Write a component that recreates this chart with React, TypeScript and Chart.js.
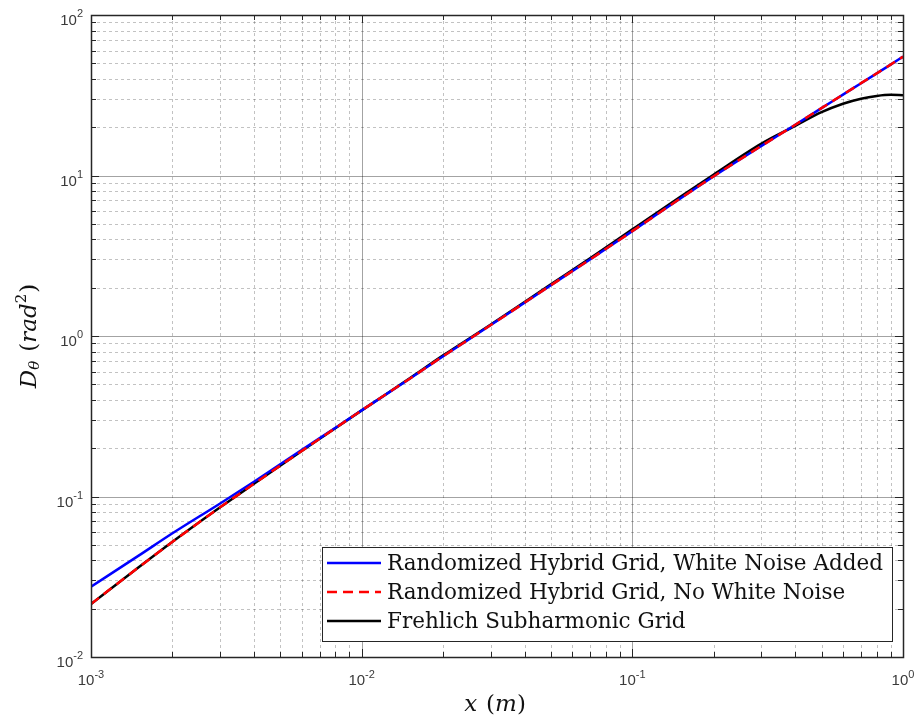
import { useEffect, useRef } from "react";
import { Chart, registerables } from "chart.js";

Chart.register(...registerables);

// Separation x (m)
const xValues = [
  0.001, 0.0015, 0.002, 0.003, 0.004, 0.005, 0.007, 0.01, 0.015, 0.02, 0.03, 0.05,
  0.07, 0.1, 0.15, 0.2, 0.3, 0.4, 0.5, 0.6, 0.7, 0.8, 0.9, 1.0,
];

// Structure function D_theta (rad^2)
const hybridWhiteNoise = [
  0.0274, 0.0428, 0.059, 0.0905, 0.1236, 0.1587, 0.231, 0.344, 0.54, 0.748, 1.17, 2.07,
  3.01, 4.5, 7.17, 9.9, 15.3, 20.7, 26.3, 31.9, 37.6, 43.3, 49.1, 55.0,
];
const hybridNoWhiteNoise = [
  0.0214, 0.0362, 0.0522, 0.0856, 0.12, 0.1556, 0.229, 0.344, 0.54, 0.748, 1.17, 2.07,
  3.01, 4.5, 7.17, 9.9, 15.3, 20.7, 26.3, 31.9, 37.6, 43.3, 49.1, 55.0,
];
const frehlichSubharmonic = [
  0.0214, 0.0362, 0.0522, 0.0856, 0.12, 0.1556, 0.229, 0.344, 0.543, 0.757, 1.18, 2.1,
  3.06, 4.62, 7.35, 10.15, 15.8, 20.4, 24.8, 28.0, 30.1, 31.3, 31.8, 31.6,
];

const seriesNames = [
  "Randomized Hybrid Grid, White Noise Added",
  "Randomized Hybrid Grid, No White Noise",
  "Frehlich Subharmonic Grid",
];

// Decade exponents for the axes
const xDecades = [-3, -2, -1, 0];
const yDecades = [-2, -1, 0, 1, 2];

const FRAME = "#262626";
const LABEL = "#3a3a3a";

function decadeTicks(decades: number[]) {
  const out: { v: number; major: boolean }[] = [];
  decades.forEach((d, i) => {
    const base = Math.pow(10, d);
    out.push({ v: base, major: true });
    if (i < decades.length - 1) {
      for (let k = 2; k <= 9; k++) out.push({ v: k * base, major: false });
    }
  });
  return out;
}

type Piece = { text: string; font: string; dy?: number; gap?: number };

function drawPieces(ctx: CanvasRenderingContext2D, pieces: Piece[], x: number, y: number, align: "left" | "center" | "right") {
  let total = 0;
  const widths = pieces.map((p) => {
    ctx.font = p.font;
    const w = ctx.measureText(p.text).width + (p.gap || 0);
    total += w;
    return w;
  });
  let cx = align === "left" ? x : align === "center" ? x - total / 2 : x - total;
  ctx.textAlign = "left";
  pieces.forEach((p, i) => {
    ctx.font = p.font;
    ctx.fillText(p.text, cx + (p.gap || 0), y + (p.dy || 0));
    cx += widths[i];
  });
}

const axesPlugin = {
  id: "matlabAxes",
  beforeDatasetsDraw(chart: any) {
    const { ctx, chartArea: a, scales } = chart;
    const xs = scales.x;
    const ys = scales.y;
    ctx.save();
    // minor grid (dotted)
    ctx.lineWidth = 1;
    ctx.strokeStyle = "rgba(0,0,0,0.24)";
    ctx.setLineDash([3, 3]);
    decadeTicks(xDecades).filter((t) => !t.major).forEach((t) => {
      const px = Math.round(xs.getPixelForValue(t.v)) + 0.5;
      ctx.beginPath(); ctx.moveTo(px, a.top); ctx.lineTo(px, a.bottom); ctx.stroke();
    });
    decadeTicks(yDecades).filter((t) => !t.major).forEach((t) => {
      const py = Math.round(ys.getPixelForValue(t.v)) + 0.5;
      ctx.beginPath(); ctx.moveTo(a.left, py); ctx.lineTo(a.right, py); ctx.stroke();
    });
    // major grid (solid)
    ctx.setLineDash([]);
    ctx.strokeStyle = "rgba(0,0,0,0.36)";
    decadeTicks(xDecades).filter((t) => t.major).forEach((t) => {
      const px = Math.round(xs.getPixelForValue(t.v)) + 0.5;
      ctx.beginPath(); ctx.moveTo(px, a.top); ctx.lineTo(px, a.bottom); ctx.stroke();
    });
    decadeTicks(yDecades).filter((t) => t.major).forEach((t) => {
      const py = Math.round(ys.getPixelForValue(t.v)) + 0.5;
      ctx.beginPath(); ctx.moveTo(a.left, py); ctx.lineTo(a.right, py); ctx.stroke();
    });
    ctx.restore();
  },
  afterDatasetsDraw(chart: any) {
    const { ctx, chartArea: a, scales } = chart;
    const xs = scales.x;
    const ys = scales.y;
    ctx.save();
    // inward ticks on all four sides
    ctx.strokeStyle = FRAME;
    ctx.lineWidth = 1;
    decadeTicks(xDecades).forEach((t) => {
      const px = Math.round(xs.getPixelForValue(t.v)) + 0.5;
      const len = t.major ? 8 : 5;
      ctx.beginPath();
      ctx.moveTo(px, a.bottom); ctx.lineTo(px, a.bottom - len);
      ctx.moveTo(px, a.top); ctx.lineTo(px, a.top + len);
      ctx.stroke();
    });
    decadeTicks(yDecades).forEach((t) => {
      const py = Math.round(ys.getPixelForValue(t.v)) + 0.5;
      const len = t.major ? 8 : 5;
      ctx.beginPath();
      ctx.moveTo(a.left, py); ctx.lineTo(a.left + len, py);
      ctx.moveTo(a.right, py); ctx.lineTo(a.right - len, py);
      ctx.stroke();
    });
    // frame
    ctx.lineWidth = 1.5;
    ctx.strokeRect(Math.round(a.left) + 0.5, Math.round(a.top) + 0.5, Math.round(a.right - a.left), Math.round(a.bottom - a.top));

    // tick labels with superscript exponents
    ctx.fillStyle = LABEL;
    ctx.textBaseline = "alphabetic";
    const baseFont = "15px 'Liberation Sans', Arial, sans-serif";
    const expFont = "11px 'Liberation Sans', Arial, sans-serif";
    xDecades.forEach((d) => {
      const px = xs.getPixelForValue(Math.pow(10, d));
      drawPieces(ctx, [
        { text: "10", font: baseFont },
        { text: String(d), font: expFont, dy: -7 },
      ], px, a.bottom + 28, "center");
    });
    yDecades.forEach((d) => {
      const py = ys.getPixelForValue(Math.pow(10, d));
      drawPieces(ctx, [
        { text: "10", font: baseFont },
        { text: String(d), font: expFont, dy: -8 },
      ], a.left - 8, py + 10, "right");
    });

    // axis titles
    ctx.fillStyle = "#111";
    const it = "italic 23px 'DejaVu Serif', serif";
    const rm = "23px 'DejaVu Serif', serif";
    ctx.textBaseline = "middle";
    drawPieces(ctx, [
      { text: "x", font: it },
      { text: "(", font: rm, gap: 9 },
      { text: "m", font: it },
      { text: ")", font: rm },
    ], (a.left + a.right) / 2 - 2, a.bottom + 48, "center");

    ctx.save();
    ctx.translate(30, (a.top + a.bottom) / 2);
    ctx.rotate(-Math.PI / 2);
    drawPieces(ctx, [
      { text: "D", font: it },
      { text: "θ", font: "italic 15px 'DejaVu Serif', serif", dy: 5 },
      { text: "(", font: rm, gap: 9 },
      { text: "rad", font: it },
      { text: "2", font: "15px 'DejaVu Serif', serif", dy: -8 },
      { text: ")", font: rm, gap: 1 },
    ], 0, 0, "center");
    ctx.restore();

    // legend box
    const lx = 322.5, ly = 547.5, lw = 570, lh = 94;
    ctx.fillStyle = "#ffffff";
    ctx.fillRect(lx, ly, lw, lh);
    ctx.strokeStyle = FRAME;
    ctx.lineWidth = 1;
    ctx.strokeRect(lx, ly, lw, lh);
    const rows = [563, 592, 621];
    chart.data.datasets
      .map((ds: any, i: number) => ({ ds, i }))
      .sort((p: any, q: any) => p.ds.legendIndex - q.ds.legendIndex)
      .forEach(({ ds }: any, r: number) => {
        const y = rows[r];
        ctx.strokeStyle = ds.borderColor;
        ctx.lineWidth = ds.borderWidth;
        ctx.setLineDash(ds.borderDash || []);
        ctx.beginPath(); ctx.moveTo(327, y); ctx.lineTo(381, y); ctx.stroke();
        ctx.setLineDash([]);
        ctx.fillStyle = "#111";
        ctx.font = "21.5px 'DejaVu Serif', serif";
        ctx.textAlign = "left";
        ctx.textBaseline = "middle";
        ctx.fillText(ds.label, 387, y + 1);
      });
    ctx.restore();
  },
};

function points(ys: number[]) {
  return xValues.map((x, i) => ({ x, y: ys[i] }));
}

export default function App() {
  const ref = useRef<HTMLCanvasElement | null>(null);
  useEffect(() => {
    document.body.style.margin = "0";
    const canvas = ref.current;
    if (!canvas) return;
    const common = { pointRadius: 0, borderWidth: 2.5, cubicInterpolationMode: "monotone" as const };
    const chart = new Chart(canvas, {
      type: "line",
      data: {
        datasets: [
          {
            ...common,
            label: seriesNames[2],
            legendIndex: 2,
            data: points(frehlichSubharmonic),
            borderColor: "#000000",
            order: 3,
          } as any,
          {
            ...common,
            label: seriesNames[0],
            legendIndex: 0,
            data: points(hybridWhiteNoise),
            borderColor: "#0000ff",
            order: 2,
          } as any,
          {
            ...common,
            label: seriesNames[1],
            legendIndex: 1,
            data: points(hybridNoWhiteNoise),
            borderColor: "#ff0000",
            borderDash: [10, 6],
            order: 1,
          } as any,
        ],
      },
      options: {
        animation: false,
        responsive: false,
        maintainAspectRatio: false,
        layout: { padding: { left: 91, right: 16, top: 15, bottom: 70 } },
        plugins: { legend: { display: false }, tooltip: { enabled: false } },
        scales: {
          x: { type: "logarithmic", min: 0.001, max: 1, display: false },
          y: { type: "logarithmic", min: 0.01, max: 100, display: false },
        },
      },
      plugins: [axesPlugin],
    });
    return () => chart.destroy();
  }, []);
  return (
    <div style={{ position: "absolute", left: 0, top: 0, width: 919, height: 727, background: "#fff" }}>
      <canvas ref={ref} width={919} height={727} style={{ display: "block" }} />
    </div>
  );
}
